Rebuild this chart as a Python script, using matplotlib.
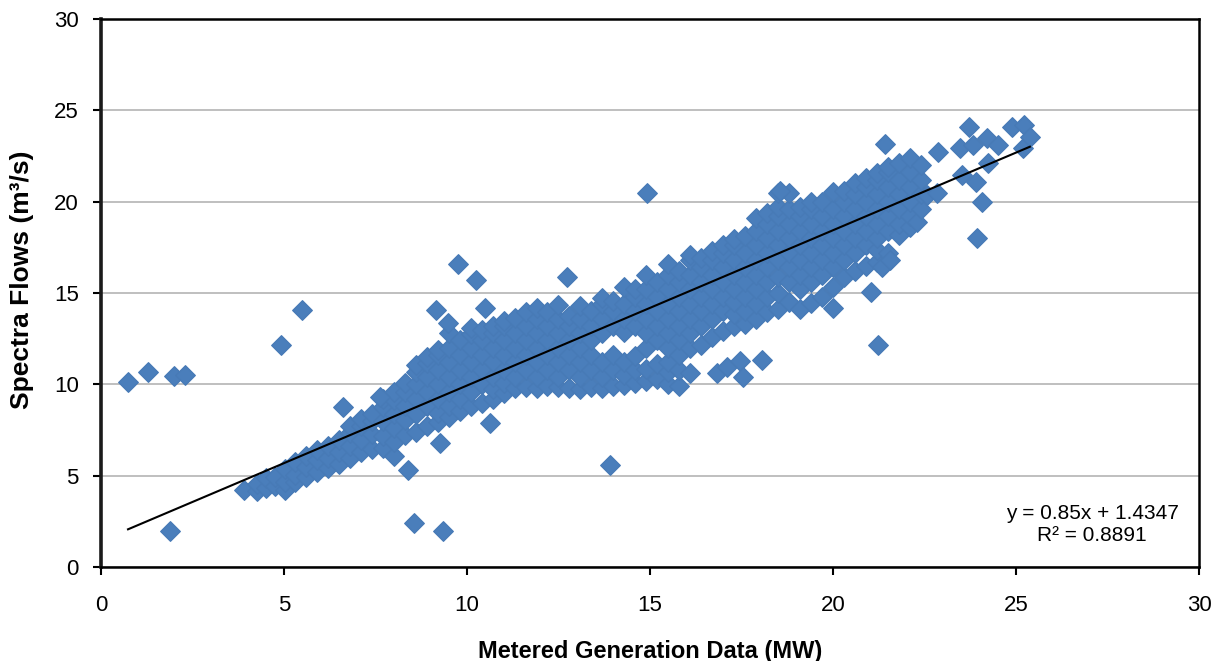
import matplotlib.pyplot as plt
import numpy as np

plt.rcParams['font.family'] = ['Liberation Sans', 'DejaVu Sans']

# main cloud of readings, one entry per metered-generation column: (MW, [flows])
cloud_cols = [
    (3.92, [4.2]),
    (4.25, [4.15, 4.55]),
    (4.5, [4.3, 4.85]),
    (4.75, [4.45, 4.95]),
    (5.03, [4.2, 4.65, 5.35]),
    (5.3, [4.65, 5.05, 5.75]),
    (5.6, [4.95, 5.45, 6.1]),
    (5.9, [5.2, 5.85, 6.4]),
    (6.2, [5.4, 5.95, 6.6]),
    (6.5, [5.65, 6.3, 6.95]),
    (6.8, [5.95, 6.6, 7.35, 7.7]),
    (7.1, [6.3, 6.95, 7.7, 8.1]),
    (7.4, [6.45, 7.3, 8.0, 8.4]),
    (7.7, [6.5, 7.15, 8.0, 8.75, 9.2]),
    (8.0, [6.1, 6.85, 7.6, 8.4, 9.15, 9.6]),
    (8.3, [7.2, 8.05, 8.8, 9.6, 10.05]),
    (8.6, [7.4, 8.35, 9.2, 10.0, 10.65, 11.05]),
    (8.9, [7.7, 8.8, 9.6, 10.4, 11.15, 11.5]),
    (9.2, [7.95, 8.45, 9.2, 10.0, 10.8, 11.6, 11.9]),
    (9.5, [8.2, 8.8, 9.6, 10.4, 11.2, 12.0, 12.8]),
    (9.8, [8.55, 9.2, 10.0, 10.8, 11.6, 12.45]),
    (10.1, [8.8, 9.6, 10.4, 11.2, 12.0, 12.75, 13.1]),
    (10.4, [9.0, 10.0, 10.8, 11.6, 12.4, 13.0]),
    (10.7, [9.2, 9.75, 10.4, 11.2, 12.0, 12.8, 13.2]),
    (11.0, [9.5, 10.05, 10.8, 11.6, 12.4, 13.2, 13.45]),
    (11.3, [9.8, 10.4, 11.2, 12.0, 12.8, 13.65]),
    (11.6, [9.85, 10.8, 11.6, 12.4, 13.2, 13.95]),
    (11.9, [9.8, 10.4, 11.2, 12.0, 12.8, 13.6, 14.2]),
    (12.2, [9.9, 10.8, 11.6, 12.4, 13.2, 13.95]),
    (12.5, [9.85, 10.4, 11.2, 12.0, 12.8, 13.6, 14.35]),
    (12.8, [9.8, 10.8, 11.6, 12.4, 13.2, 13.75]),
    (13.1, [9.75, 10.4, 11.2, 12.0, 12.8, 13.6, 14.3]),
    (13.4, [9.85, 10.8, 11.6, 12.4, 13.2, 14.0]),
    (13.7, [9.8, 10.4, 11.2, 12.8, 13.6, 14.4, 14.75]),
    (14.0, [9.9, 10.8, 11.6, 13.2, 14.0, 14.55]),
    (14.3, [9.95, 10.5, 11.2, 12.85, 13.6, 14.4, 15.35]),
    (14.6, [10.1, 10.8, 11.55, 13.2, 14.0, 14.8, 15.2]),
    (14.9, [10.2, 10.85, 12.0, 12.8, 13.6, 14.4, 15.2, 16.0]),
    (15.2, [10.3, 11.1, 12.4, 13.2, 14.0, 14.8, 15.6]),
    (15.5, [10.0, 10.65, 11.2, 12.0, 12.8, 13.6, 14.4, 15.2, 16.0, 16.6]),
    (15.8, [9.9, 10.8, 11.6, 12.4, 13.2, 14.0, 14.8, 15.6, 16.2]),
    (16.1, [10.6, 12.0, 12.8, 13.6, 14.4, 15.2, 16.0, 16.8, 17.1]),
    (16.4, [12.15, 13.2, 14.0, 14.8, 15.6, 16.4, 16.9]),
    (16.7, [12.6, 13.6, 14.4, 15.2, 16.0, 16.8, 17.3]),
    (16.83, [10.6]),
    (17.0, [12.9, 14.0, 14.8, 15.6, 16.4, 17.2, 17.6]),
    (17.1, [10.95]),
    (17.3, [13.2, 13.85, 14.5, 15.2, 16.0, 16.8, 17.6, 17.95]),
    (17.46, [11.3]),
    (17.54, [10.4]),
    (17.6, [13.3, 14.0, 14.8, 15.6, 16.4, 17.2, 18.1]),
    (17.9, [13.6, 14.4, 15.2, 16.0, 16.8, 17.6, 18.4, 19.1]),
    (18.06, [11.33]),
    (18.2, [13.95, 14.8, 15.6, 16.4, 17.2, 18.0, 18.8, 19.4]),
    (18.5, [14.15, 15.0, 15.85, 16.8, 17.6, 18.4, 19.2, 19.7, 20.5]),
    (18.8, [14.5, 15.6, 16.4, 17.2, 18.0, 18.8, 19.6, 20.45]),
    (19.1, [14.1, 15.2, 16.0, 16.8, 17.6, 18.4, 19.2, 19.7]),
    (19.4, [14.45, 15.6, 16.4, 17.2, 18.0, 18.8, 19.6, 20.0]),
    (19.7, [14.8, 16.0, 16.8, 17.6, 18.4, 19.2, 20.0]),
    (20.0, [14.2, 15.35, 16.4, 17.2, 18.0, 18.8, 19.6, 20.55]),
    (20.3, [15.9, 16.8, 17.6, 18.4, 19.2, 20.0, 20.6]),
    (20.6, [16.2, 17.2, 18.0, 18.8, 19.6, 20.4, 21.0]),
    (20.9, [16.5, 17.6, 18.4, 19.2, 20.0, 20.8, 21.3]),
    (21.04, [15.05]),
    (21.2, [16.7, 17.35, 18.0, 18.8, 19.6, 20.4, 21.2, 21.55]),
    (21.34, [16.4]),
    (21.5, [17.2, 18.4, 19.2, 20.0, 20.8, 21.6, 21.9]),
    (21.56, [16.8]),
    (21.8, [18.2, 18.8, 19.6, 20.4, 21.2, 22.1]),
    (22.1, [18.6, 19.2, 20.0, 20.8, 21.6, 22.4]),
    (22.3, [18.9]),
    (22.4, [19.6, 20.4, 21.2, 22.0]),
]

# high-output end of the record
upper_x = [21.42, 22.57, 22.84, 22.87, 23.47, 23.52, 23.72, 23.83, 23.9, 23.93,
           24.07, 24.2, 24.23, 24.5, 24.89, 25.19, 25.22, 25.38]
upper_y = [23.15, 20.36, 20.45, 22.7, 22.93, 21.45, 24.08, 23.1, 21.1, 18.0,
           19.98, 23.5, 22.1, 23.1, 24.08, 22.93, 24.19, 23.54]

# scattered readings away from the main band
stray_x = [0.74, 1.28, 1.99, 2.3, 1.89, 4.92, 5.49, 8.55, 9.34, 8.39, 9.26,
           9.15, 9.48, 9.75, 10.25, 10.49, 12.73, 14.92, 13.9, 10.63, 6.6,
           7.62, 18.55, 21.23]
stray_y = [10.13, 10.67, 10.45, 10.5, 1.97, 12.15, 14.07, 2.4, 1.97, 5.3, 6.8,
           14.07, 13.35, 16.6, 15.7, 14.2, 15.9, 20.47, 5.58, 7.9, 8.76,
           9.3, 20.6, 12.15]

# linear fit as reported
slope = 0.85
intercept = 1.4347
r_squared = 0.8891

cloud_x = [x for x, ys in cloud_cols for _ in ys]
cloud_y = [y for _, ys in cloud_cols for y in ys]
all_x = np.array(cloud_x + upper_x + stray_x)
all_y = np.array(cloud_y + upper_y + stray_y)

fig = plt.figure(figsize=(12.28, 6.61), dpi=100)
ax = fig.add_axes([0.0822, 0.1422, 0.8942, 0.8291])

blue = '#4A7EBB'
ax.scatter(all_x, all_y, marker='D', s=100, facecolor=blue, edgecolor='#477AB6',
           linewidths=0.9, zorder=3)

fit_x = np.array([all_x.min(), all_x.max()])
ax.plot(fit_x, slope * fit_x + intercept, color='black', lw=1.5, zorder=4)

ax.set_xlim(0, 30)
ax.set_ylim(0, 30)
ax.set_xticks(range(0, 31, 5))
ax.set_yticks(range(0, 31, 5))
ax.grid(axis='y', color='#BFBFBF', lw=1.4, zorder=0)
ax.set_axisbelow(True)

for side in ['top', 'right', 'bottom']:
    ax.spines[side].set_linewidth(1.8)
    ax.spines[side].set_color('black')
ax.spines['left'].set_linewidth(2.6)
ax.spines['left'].set_color('#1a1a1a')

ax.tick_params(axis='x', direction='out', length=6, width=1.5, pad=14, labelsize=16)
ax.tick_params(axis='y', direction='out', length=6, width=1.5, pad=10, labelsize=16)

ax.set_xlabel('Metered Generation Data (MW)', fontsize=17, fontweight='bold')
ax.set_ylabel('Spectra Flows (m³/s)', fontsize=19, fontweight='bold')
ax.xaxis.set_label_coords(0.5, -0.133)
ax.yaxis.set_label_coords(-0.061, 0.524)

ax.text(0.9026, 0.0776, f'y = {slope}x + {intercept}\nR² = {r_squared}',
        transform=ax.transAxes, ha='center', va='center', fontsize=15,
        multialignment='center', linespacing=1.25)

fig.savefig('out.png', dpi=100)
